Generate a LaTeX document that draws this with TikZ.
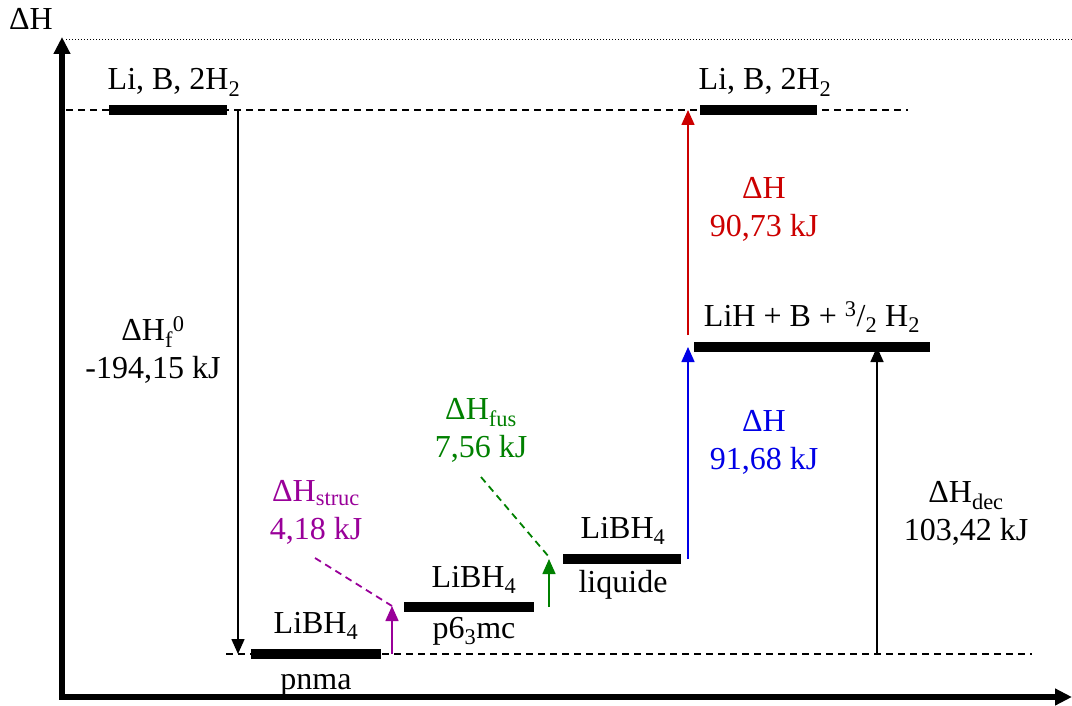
\documentclass[tikz,border=0pt]{standalone}
\usepackage{fontspec}
\setmainfont{Liberation Serif}
\usetikzlibrary{arrows.meta,positioning,calc}
\definecolor{struccol}{RGB}{153,0,153}
\definecolor{fuscol}{RGB}{0,128,0}
\definecolor{decbcol}{RGB}{0,0,230}
\definecolor{decacol}{RGB}{204,0,0}

\begin{document}
\begin{tikzpicture}[x=1pt,y=-1pt,>={Triangle[length=15pt,width=13pt]},
 font=\fontsize{32}{38}\selectfont,
 bar/.style={fill=black,inner sep=0pt,minimum height=10pt},
 lbl/.style={anchor=base,inner sep=0pt},
 txt/.style={align=center,inner sep=0pt},
 axis/.style={line width=6pt,line cap=rect,-{Triangle[length=17pt,width=16pt]}},
 ref/.style={dash pattern=on 7pt off 5pt,line width=1.3pt},
 hint/.style={dash pattern=on 7pt off 5pt,line width=1.8pt},
 link/.style={->,line width=1.6pt}]
\useasboundingbox (0,0) rectangle (1072,706);
% axes
\coordinate (origin) at (62,697);
\coordinate (ytop) at (62,37);
\coordinate (xend) at (1072,697);
\coordinate (dot0) at (66,40);
\coordinate (dot1) at (1072,40);
\draw[axis] (origin) -- (ytop);
\draw[axis] (origin) -- (xend);
\draw[line width=1pt,dash pattern=on 1pt off 2pt] (dot0) -- (dot1);
\node[lbl] (axlbl) at (31,30) {ΔH};
% reference levels
\coordinate (hi0) at (66,110);
\coordinate (hi1) at (908,110);
\coordinate (lo0) at (226,654);
\coordinate (lo1) at (1032,654);
\draw[ref] (hi0) -- (hi1);
\draw[ref] (lo0) -- (lo1);
% levels
\node[bar,minimum width=118pt] (elemL) at (168,110) {};
\node[bar,minimum width=117pt] (elemR) at (758,110) {};
\node[bar,minimum width=236pt] (hydr) at (812,347) {};
\node[bar,minimum width=130pt] (pnma) at (316,654) {};
\node[bar,minimum width=130pt] (hexa) at (469,607) {};
\node[bar,minimum width=118pt] (liq) at (622,559) {};
\node[lbl] (elemLlbl) at (174,90) {Li, B, 2H\textsubscript{2}};
\node[lbl] (elemRlbl) at (765,90) {Li, B, 2H\textsubscript{2}};
\node[lbl] (hydrlbl) at (812,326) {LiH + B + \textsuperscript{3}/\textsubscript{2} H\textsubscript{2}};
\node[lbl] (pnmalbl) at (316,633) {LiBH\textsubscript{4}};
\node[lbl] (pnmasub) at (316,689) {pnma};
\node[lbl] (hexalbl) at (474,587) {LiBH\textsubscript{4}};
\node[lbl] (hexasub) at (474,638) {p6\textsubscript{3}mc};
\node[lbl] (liqlbl) at (623,538) {LiBH\textsubscript{4}};
\node[lbl] (liqsub) at (623,592) {liquide};
% arrow ends
\coordinate (f0) at (238,110);
\coordinate (f1) at (238,654);
\coordinate (s0) at (392,654);
\coordinate (s1) at (392,606);
\coordinate (m0) at (549,607);
\coordinate (m1) at (549,559);
\coordinate (b0) at (688,559);
\coordinate (b1) at (688,347);
\coordinate (a0) at (688,335);
\coordinate (a1) at (688,110);
\coordinate (d0) at (877,654);
\coordinate (d1) at (877,347);
\draw[link] (f0) -- (f1);
\draw[link,struccol] (s0) -- (s1);
\draw[link,fuscol] (m0) -- (m1);
\draw[link,decbcol] (b0) -- (b1);
\draw[link,decacol] (a0) -- (a1);
\draw[link] (d0) -- (d1);
% enthalpies
\node[txt] (formlbl) at (153,350) {ΔH\textsubscript{f}\textsuperscript{0}\\-194,15 kJ};
\node[txt,struccol] (struclbl) at (316,512) {ΔH\textsubscript{struc}\\4,18 kJ};
\node[txt,fuscol] (fuslbl) at (481,430) {ΔH\textsubscript{fus}\\7,56 kJ};
\node[txt,decacol] (decalbl) at (764,209) {ΔH\\90,73 kJ};
\node[txt,decbcol] (decblbl) at (764,442) {ΔH\\91,68 kJ};
\node[txt] (declbl) at (966,513) {ΔH\textsubscript{dec}\\103,42 kJ};
\coordinate (sh) at (315,558);
\coordinate (mh) at (481,477);
\draw[hint,struccol] (sh) -- (s1);
\draw[hint,fuscol] (mh) -- ($(m1)+(0,-2)$);
\end{tikzpicture}
\end{document}
